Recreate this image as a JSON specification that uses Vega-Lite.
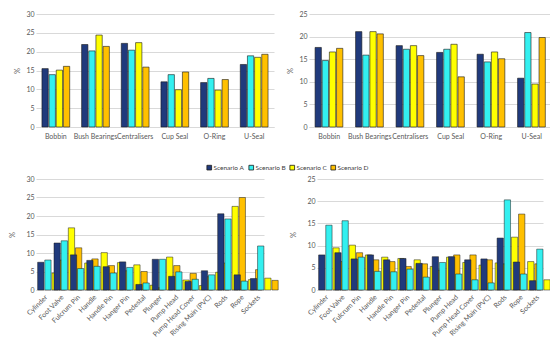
{
  "$schema": "https://vega.github.io/schema/vega-lite/v6.json",
  "padding": {"left": 8, "top": 10, "right": 2, "bottom": 2},
  "background": "white",
  "config": {
    "font": "Lato",
    "view": {"stroke": null},
    "axis": {"labelFont": "Lato", "titleFont": "Lato", "labelColor": "#595959", "titleColor": "#595959", "labelFontSize": 7, "titleFontSize": 7.5, "titleFontWeight": "normal", "ticks": false, "gridColor": "#d9d9d9", "domainColor": "#d9d9d9"},
    "legend": {"labelFont": "Lato", "labelFontSize": 6.5, "labelColor": "#404040"}
  },
  "datasets": {
    "tl": [
      {"c": "Bobbin", "s": "Scenario A", "v": 15.5}, {"c": "Bobbin", "s": "Scenario B", "v": 13.9}, {"c": "Bobbin", "s": "Scenario C", "v": 15.1}, {"c": "Bobbin", "s": "Scenario D", "v": 16.1},
      {"c": "Bush Bearings", "s": "Scenario A", "v": 21.9}, {"c": "Bush Bearings", "s": "Scenario B", "v": 20.2}, {"c": "Bush Bearings", "s": "Scenario C", "v": 24.4}, {"c": "Bush Bearings", "s": "Scenario D", "v": 21.4},
      {"c": "Centralisers", "s": "Scenario A", "v": 22.2}, {"c": "Centralisers", "s": "Scenario B", "v": 20.4}, {"c": "Centralisers", "s": "Scenario C", "v": 22.4}, {"c": "Centralisers", "s": "Scenario D", "v": 15.9},
      {"c": "Cup Seal", "s": "Scenario A", "v": 12.0}, {"c": "Cup Seal", "s": "Scenario B", "v": 13.9}, {"c": "Cup Seal", "s": "Scenario C", "v": 9.9}, {"c": "Cup Seal", "s": "Scenario D", "v": 14.6},
      {"c": "O-Ring", "s": "Scenario A", "v": 11.8}, {"c": "O-Ring", "s": "Scenario B", "v": 12.9}, {"c": "O-Ring", "s": "Scenario C", "v": 9.8}, {"c": "O-Ring", "s": "Scenario D", "v": 12.6},
      {"c": "U-Seal", "s": "Scenario A", "v": 16.6}, {"c": "U-Seal", "s": "Scenario B", "v": 18.9}, {"c": "U-Seal", "s": "Scenario C", "v": 18.5}, {"c": "U-Seal", "s": "Scenario D", "v": 19.3}
    ],
    "tr": [
      {"c": "Bobbin", "s": "Scenario A", "v": 17.6}, {"c": "Bobbin", "s": "Scenario B", "v": 14.7}, {"c": "Bobbin", "s": "Scenario C", "v": 16.6}, {"c": "Bobbin", "s": "Scenario D", "v": 17.4},
      {"c": "Bush Bearings", "s": "Scenario A", "v": 21.1}, {"c": "Bush Bearings", "s": "Scenario B", "v": 15.9}, {"c": "Bush Bearings", "s": "Scenario C", "v": 21.1}, {"c": "Bush Bearings", "s": "Scenario D", "v": 20.6},
      {"c": "Centralisers", "s": "Scenario A", "v": 18.0}, {"c": "Centralisers", "s": "Scenario B", "v": 17.2}, {"c": "Centralisers", "s": "Scenario C", "v": 18.0}, {"c": "Centralisers", "s": "Scenario D", "v": 15.8},
      {"c": "Cup Seal", "s": "Scenario A", "v": 16.5}, {"c": "Cup Seal", "s": "Scenario B", "v": 17.2}, {"c": "Cup Seal", "s": "Scenario C", "v": 18.3}, {"c": "Cup Seal", "s": "Scenario D", "v": 11.1},
      {"c": "O-Ring", "s": "Scenario A", "v": 16.1}, {"c": "O-Ring", "s": "Scenario B", "v": 14.4}, {"c": "O-Ring", "s": "Scenario C", "v": 16.6}, {"c": "O-Ring", "s": "Scenario D", "v": 15.1},
      {"c": "U-Seal", "s": "Scenario A", "v": 10.8}, {"c": "U-Seal", "s": "Scenario B", "v": 20.9}, {"c": "U-Seal", "s": "Scenario C", "v": 9.5}, {"c": "U-Seal", "s": "Scenario D", "v": 19.8}
    ],
    "bl": [
      {"c": "Cylinder", "s": "Scenario A", "v": 7.5}, {"c": "Cylinder", "s": "Scenario B", "v": 8.1}, {"c": "Cylinder", "s": "Scenario C", "v": 4.6}, {"c": "Cylinder", "s": "Scenario D", "v": 8.1},
      {"c": "Foot Valve", "s": "Scenario A", "v": 12.7}, {"c": "Foot Valve", "s": "Scenario B", "v": 13.3}, {"c": "Foot Valve", "s": "Scenario C", "v": 16.8}, {"c": "Foot Valve", "s": "Scenario D", "v": 11.4},
      {"c": "Fulcrum Pin", "s": "Scenario A", "v": 9.5}, {"c": "Fulcrum Pin", "s": "Scenario B", "v": 5.8}, {"c": "Fulcrum Pin", "s": "Scenario C", "v": 7.3}, {"c": "Fulcrum Pin", "s": "Scenario D", "v": 8.4},
      {"c": "Handle", "s": "Scenario A", "v": 8.0}, {"c": "Handle", "s": "Scenario B", "v": 6.4}, {"c": "Handle", "s": "Scenario C", "v": 10.1}, {"c": "Handle", "s": "Scenario D", "v": 6.6},
      {"c": "Handle Pin", "s": "Scenario A", "v": 6.3}, {"c": "Handle Pin", "s": "Scenario B", "v": 4.6}, {"c": "Handle Pin", "s": "Scenario C", "v": 7.4}, {"c": "Handle Pin", "s": "Scenario D", "v": 5.2},
      {"c": "Hanger Pin", "s": "Scenario A", "v": 7.6}, {"c": "Hanger Pin", "s": "Scenario B", "v": 6.1}, {"c": "Hanger Pin", "s": "Scenario C", "v": 6.8}, {"c": "Hanger Pin", "s": "Scenario D", "v": 5.0},
      {"c": "Pedestal", "s": "Scenario A", "v": 1.5}, {"c": "Pedestal", "s": "Scenario B", "v": 1.9}, {"c": "Pedestal", "s": "Scenario C", "v": 1.3}, {"c": "Pedestal", "s": "Scenario D", "v": 0.6},
      {"c": "Plunger", "s": "Scenario A", "v": 8.3}, {"c": "Plunger", "s": "Scenario B", "v": 8.3}, {"c": "Plunger", "s": "Scenario C", "v": 8.9}, {"c": "Plunger", "s": "Scenario D", "v": 6.6},
      {"c": "Pump Head", "s": "Scenario A", "v": 3.7}, {"c": "Pump Head", "s": "Scenario B", "v": 4.9}, {"c": "Pump Head", "s": "Scenario C", "v": 2.7}, {"c": "Pump Head", "s": "Scenario D", "v": 4.5},
      {"c": "Pump Head Cover", "s": "Scenario A", "v": 2.3}, {"c": "Pump Head Cover", "s": "Scenario B", "v": 2.9}, {"c": "Pump Head Cover", "s": "Scenario C", "v": 1.2}, {"c": "Pump Head Cover", "s": "Scenario D", "v": 3.6},
      {"c": "Rising Main (PVC)", "s": "Scenario A", "v": 5.2}, {"c": "Rising Main (PVC)", "s": "Scenario B", "v": 4.1}, {"c": "Rising Main (PVC)", "s": "Scenario C", "v": 4.8}, {"c": "Rising Main (PVC)", "s": "Scenario D", "v": 7.3},
      {"c": "Rods", "s": "Scenario A", "v": 20.6}, {"c": "Rods", "s": "Scenario B", "v": 19.2}, {"c": "Rods", "s": "Scenario C", "v": 22.6}, {"c": "Rods", "s": "Scenario D", "v": 25.0},
      {"c": "Rope", "s": "Scenario A", "v": 4.1}, {"c": "Rope", "s": "Scenario B", "v": 2.4}, {"c": "Rope", "s": "Scenario C", "v": 2.8}, {"c": "Rope", "s": "Scenario D", "v": 5.5},
      {"c": "Sockets", "s": "Scenario A", "v": 3.1}, {"c": "Sockets", "s": "Scenario B", "v": 11.9}, {"c": "Sockets", "s": "Scenario C", "v": 3.2}, {"c": "Sockets", "s": "Scenario D", "v": 2.6}
    ],
    "br": [
      {"c": "Cylinder", "s": "Scenario A", "v": 7.9}, {"c": "Cylinder", "s": "Scenario B", "v": 14.6}, {"c": "Cylinder", "s": "Scenario C", "v": 9.5}, {"c": "Cylinder", "s": "Scenario D", "v": 6.4},
      {"c": "Foot Valve", "s": "Scenario A", "v": 8.4}, {"c": "Foot Valve", "s": "Scenario B", "v": 15.6}, {"c": "Foot Valve", "s": "Scenario C", "v": 10.1}, {"c": "Foot Valve", "s": "Scenario D", "v": 8.4},
      {"c": "Fulcrum Pin", "s": "Scenario A", "v": 7.0}, {"c": "Fulcrum Pin", "s": "Scenario B", "v": 7.4}, {"c": "Fulcrum Pin", "s": "Scenario C", "v": 7.9}, {"c": "Fulcrum Pin", "s": "Scenario D", "v": 6.8},
      {"c": "Handle", "s": "Scenario A", "v": 7.9}, {"c": "Handle", "s": "Scenario B", "v": 4.2}, {"c": "Handle", "s": "Scenario C", "v": 7.4}, {"c": "Handle", "s": "Scenario D", "v": 6.4},
      {"c": "Handle Pin", "s": "Scenario A", "v": 6.8}, {"c": "Handle Pin", "s": "Scenario B", "v": 4.1}, {"c": "Handle Pin", "s": "Scenario C", "v": 7.1}, {"c": "Handle Pin", "s": "Scenario D", "v": 5.3},
      {"c": "Hanger Pin", "s": "Scenario A", "v": 7.1}, {"c": "Hanger Pin", "s": "Scenario B", "v": 4.7}, {"c": "Hanger Pin", "s": "Scenario C", "v": 6.8}, {"c": "Hanger Pin", "s": "Scenario D", "v": 5.9},
      {"c": "Pedestal", "s": "Scenario A", "v": 6.0}, {"c": "Pedestal", "s": "Scenario B", "v": 2.9}, {"c": "Pedestal", "s": "Scenario C", "v": 5.3}, {"c": "Pedestal", "s": "Scenario D", "v": 4.5},
      {"c": "Plunger", "s": "Scenario A", "v": 7.5}, {"c": "Plunger", "s": "Scenario B", "v": 6.2}, {"c": "Plunger", "s": "Scenario C", "v": 7.4}, {"c": "Plunger", "s": "Scenario D", "v": 7.9},
      {"c": "Pump Head", "s": "Scenario A", "v": 7.5}, {"c": "Pump Head", "s": "Scenario B", "v": 3.6}, {"c": "Pump Head", "s": "Scenario C", "v": 6.2}, {"c": "Pump Head", "s": "Scenario D", "v": 7.9},
      {"c": "Pump Head Cover", "s": "Scenario A", "v": 6.8}, {"c": "Pump Head Cover", "s": "Scenario B", "v": 2.3}, {"c": "Pump Head Cover", "s": "Scenario C", "v": 5.6}, {"c": "Pump Head Cover", "s": "Scenario D", "v": 6.8},
      {"c": "Rising Main (PVC)", "s": "Scenario A", "v": 7.0}, {"c": "Rising Main (PVC)", "s": "Scenario B", "v": 1.6}, {"c": "Rising Main (PVC)", "s": "Scenario C", "v": 6.1}, {"c": "Rising Main (PVC)", "s": "Scenario D", "v": 5.9},
      {"c": "Rods", "s": "Scenario A", "v": 11.7}, {"c": "Rods", "s": "Scenario B", "v": 20.3}, {"c": "Rods", "s": "Scenario C", "v": 11.9}, {"c": "Rods", "s": "Scenario D", "v": 17.1},
      {"c": "Rope", "s": "Scenario A", "v": 6.3}, {"c": "Rope", "s": "Scenario B", "v": 3.6}, {"c": "Rope", "s": "Scenario C", "v": 6.4}, {"c": "Rope", "s": "Scenario D", "v": 5.9},
      {"c": "Sockets", "s": "Scenario A", "v": 2.1}, {"c": "Sockets", "s": "Scenario B", "v": 9.2}, {"c": "Sockets", "s": "Scenario C", "v": 2.3}, {"c": "Sockets", "s": "Scenario D", "v": 5.0}
    ]
  },
  "vconcat": [
    {
      "spacing": 12,
      "hconcat": [
        {
          "data": {"name": "tl"},
          "width": 238, "height": 113,
          "mark": {"type": "bar", "stroke": "#1a1a1a", "strokeWidth": 0.6},
          "encoding": {
            "x": {"field": "c", "type": "nominal", "sort": null, "title": null, "scale": {"paddingInner": 0.3, "paddingOuter": 0.15}, "axis": {"labelAngle": 0, "labelPadding": 5}},
            "xOffset": {"field": "s", "type": "nominal", "scale": {"paddingInner": 0.12}},
            "y": {"field": "v", "type": "quantitative", "title": "%", "scale": {"domain": [0, 30]}, "axis": {"values": [0, 5, 10, 15, 20, 25, 30], "domain": false, "titleAngle": -90, "titlePadding": 4}},
            "color": {"field": "s", "type": "nominal", "scale": {"domain": ["Scenario A", "Scenario B", "Scenario C", "Scenario D"], "range": ["#203a7c", "#33f0f0", "#ffff00", "#ffc000"]}, "legend": {"title": null, "orient": "none", "direction": "horizontal", "legendX": 170, "legendY": 150, "symbolType": "square", "symbolSize": 22, "symbolStrokeColor": "#1a1a1a", "symbolStrokeWidth": 0.8, "columnPadding": 2, "labelOffset": 1}}
          }
        },
        {
          "data": {"name": "tr"},
          "width": 243, "height": 113,
          "mark": {"type": "bar", "stroke": "#1a1a1a", "strokeWidth": 0.6},
          "encoding": {
            "x": {"field": "c", "type": "nominal", "sort": null, "title": null, "scale": {"paddingInner": 0.3, "paddingOuter": 0.15}, "axis": {"labelAngle": 0, "labelPadding": 5}},
            "xOffset": {"field": "s", "type": "nominal", "scale": {"paddingInner": 0.12}},
            "y": {"field": "v", "type": "quantitative", "title": "%", "scale": {"domain": [0, 25]}, "axis": {"values": [0, 5, 10, 15, 20, 25], "domain": false, "titleAngle": -90, "titlePadding": 4}},
            "color": {"field": "s", "type": "nominal"}
          }
        }
      ]
    },
    {
      "spacing": 10,
      "hconcat": [
        {
          "data": {"name": "bl"},
          "width": 228, "height": 111,
          "mark": {"type": "bar", "stroke": "#1a1a1a", "strokeWidth": 0.5},
          "encoding": {
            "x": {"field": "c", "type": "nominal", "sort": null, "title": null, "scale": {"paddingInner": 0.27, "paddingOuter": 0.1}, "axis": {"labelAngle": -45, "labelPadding": 3}},
            "xOffset": {"field": "s", "type": "nominal", "scale": {"paddingInner": 0.05}},
            "y": {"field": "v", "type": "quantitative", "title": "%", "scale": {"domain": [0, 30]}, "axis": {"values": [0, 5, 10, 15, 20, 25, 30], "domain": false, "titleAngle": -90, "titlePadding": 9}},
            "color": {"field": "s", "type": "nominal"}
          }
        },
        {
          "data": {"name": "br"},
          "width": 226, "height": 111,
          "mark": {"type": "bar", "stroke": "#1a1a1a", "strokeWidth": 0.5},
          "encoding": {
            "x": {"field": "c", "type": "nominal", "sort": null, "title": null, "scale": {"paddingInner": 0.27, "paddingOuter": 0.1}, "axis": {"labelAngle": -45, "labelPadding": 3}},
            "xOffset": {"field": "s", "type": "nominal", "scale": {"paddingInner": 0.05}},
            "y": {"field": "v", "type": "quantitative", "title": "%", "scale": {"domain": [0, 25]}, "axis": {"values": [0, 5, 10, 15, 20, 25], "domain": false, "titleAngle": -90, "titlePadding": 9}},
            "color": {"field": "s", "type": "nominal"}
          }
        }
      ]
    }
  ],
  "spacing": 36
}
